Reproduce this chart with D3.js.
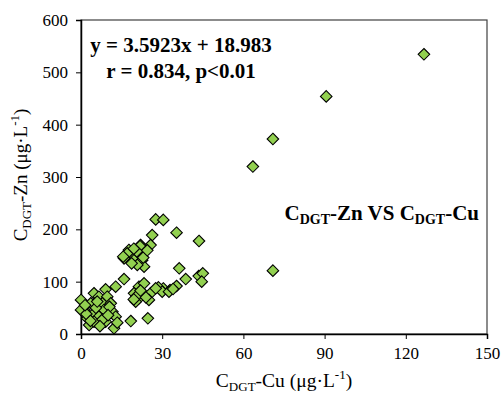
<!DOCTYPE html>
<html>
<head>
<meta charset="utf-8">
<script src="https://cdn.jsdelivr.net/npm/d3@7"></script>
<style>
  body { margin: 0; background: #fff; }
</style>
</head>
<body>
<div id="chart"></div>
<script>
// DGT concentrations, Cu (x) and Zn (y), ug/L
const cuValues = [
  126.7, 90.6, 70.9, 63.5, 70.9,
  27.6, 30.4, 35.3, 43.6, 26.3, 25.7, 22, 17.7, 19, 21.4, 17.1, 15.9, 19.6, 22.6, 23.3,
  20.8, 18.7, 21.8, 20.6, 15.6, 23, 19.5, 24.5,
  36.3, 38.7, 43.5, 45, 44.6, 35.3, 30.4, 32.9, 28.6, 30, 32.5, 34,
  15.9, 12.8, 21.4, 23.3, 19.6, 21.4, 22.6, 25.7, 27.6, 25.1, 20.2, 20.5, 22, 24, 19.5,
  9.1, 4.8, 0, 1.1, 3.6, 6.6, 9.7, 7.9, 11, 4.8, 8.5, 11.6, 12.8, 6.6, 2.3, 0,
  9.1, 3, 12.2, 13.4, 4.8, 18.4, 24.7, 5.5, 2, 8, 10.5, 1.5, 6, 3.5, 10, 7
]
const znValues = [
  534.5, 454, 372.6, 320, 121,
  219, 218, 193.6, 177.7, 189, 170, 170, 160.5, 151, 154, 154, 144.6, 141, 141, 128.6,
  132, 135, 168, 158, 147.7, 146, 163, 160,
  125.5, 105, 110.8, 116, 100, 91.7, 87, 84, 89, 80.8, 80.8, 86,
  105, 90.4, 90.4, 96.8, 77.8, 68.2, 77.8, 77.8, 87.3, 65, 61.8, 72, 83, 70, 66,
  85.4, 77.8, 65, 45.9, 58.7, 71.3, 71.3, 58.7, 58.7, 39.5, 45.9, 42.7, 33, 33, 30, 45.9,
  23.5, 17.2, 10.9, 21.6, 23.5, 24.8, 30, 50, 38, 28, 52, 55, 62, 25, 36, 15
]
const xTicks = [0, 30, 60, 90, 120, 150]
const yTicks = [0, 100, 200, 300, 400, 500, 600]

const FONT = "'Liberation Serif', 'Times New Roman', Times, serif"

const W = 501, H = 393
const margin = { top: 20, right: 14, bottom: 59, left: 81 }
const width = W - margin.left - margin.right
const height = H - margin.top - margin.bottom

const points = cuValues.map((cu, i) => ({ cu, zn: znValues[i] }))

const svg = d3.select("#chart").append("svg")
  .attr("width", W)
  .attr("height", H)
  .style("display", "block")

const g = svg.append("g")
  .attr("transform", `translate(${margin.left},${margin.top})`)

const x = d3.scaleLinear().domain([0, 150]).range([0, width])
const y = d3.scaleLinear().domain([0, 600]).range([height, 0])

// frame
g.append("rect")
  .attr("width", width)
  .attr("height", height)
  .attr("fill", "none")
  .attr("stroke", "#404040")
  .attr("stroke-width", 1.2)

g.append("g")
  .attr("transform", `translate(0,${height})`)
  .call(d3.axisBottom(x).tickValues(xTicks).tickSize(5).tickPadding(8))
  .call(a => a.attr("font-family", null).style("font-family", FONT).attr("font-size", 17))
  .call(a => a.select(".domain").attr("stroke-width", 1.5))
  .call(a => a.selectAll("text").attr("fill", "#000"))

g.append("g")
  .call(d3.axisLeft(y).tickValues(yTicks).tickSize(5).tickPadding(8))
  .call(a => a.attr("font-family", null).style("font-family", FONT).attr("font-size", 17))
  .call(a => a.select(".domain").attr("stroke-width", 1.5))
  .call(a => a.selectAll("text").attr("fill", "#000"))

// markers
const diamond = d3.symbol().type(d3.symbolDiamond2).size(85)
g.selectAll(".pt")
  .data(points)
  .enter()
  .append("path")
  .attr("class", "pt")
  .attr("d", diamond)
  .attr("transform", d => `translate(${x(d.cu)},${y(d.zn)})`)
  .attr("fill", "#92d050")
  .attr("stroke", "#000")
  .attr("stroke-width", 1.1)

// equation
const eq = g.append("text")
  .style("font-family", FONT)
  .attr("font-weight", "bold")
  .attr("font-size", 21)
  .attr("text-anchor", "middle")
eq.append("tspan").attr("x", 100).attr("y", 32).text("y = 3.5923x + 18.983")
eq.append("tspan").attr("x", 100).attr("y", 58).text("r = 0.834, p<0.01")

// title inside plot
const title = g.append("text")
  .style("font-family", FONT)
  .attr("x", width - 8)
  .attr("y", 200)
  .attr("text-anchor", "end")
  .attr("font-weight", "bold")
  .attr("font-size", 21)
title.append("tspan").text("C")
title.append("tspan").attr("font-size", 14).attr("dy", 4).text("DGT")
title.append("tspan").attr("dy", -4).text("-Zn VS C")
title.append("tspan").attr("font-size", 14).attr("dy", 4).text("DGT")
title.append("tspan").attr("dy", -4).text("-Cu")

// x axis title
const xt = svg.append("text")
  .style("font-family", FONT)
  .attr("x", margin.left + width / 2)
  .attr("y", 387)
  .attr("text-anchor", "middle")
  .attr("font-size", 19.5)
xt.append("tspan").text("C")
xt.append("tspan").attr("font-size", 13).attr("dy", 4).text("DGT")
xt.append("tspan").attr("dy", -4).text("-Cu (μg·L")
xt.append("tspan").attr("font-size", 13).attr("dy", -8).text("-1")
xt.append("tspan").attr("dy", 8).text(")")

// y axis title
const yt = svg.append("text")
  .style("font-family", FONT)
  .attr("transform", `translate(27,${margin.top + height / 2 - 2}) rotate(-90)`)
  .attr("text-anchor", "middle")
  .attr("font-size", 19)
yt.append("tspan").text("C")
yt.append("tspan").attr("font-size", 13).attr("dy", 4).text("DGT")
yt.append("tspan").attr("dy", -4).text("-Zn (μg·L")
yt.append("tspan").attr("font-size", 13).attr("dy", -8).text("-1")
yt.append("tspan").attr("dy", 8).text(")")
</script>
</body>
</html>
